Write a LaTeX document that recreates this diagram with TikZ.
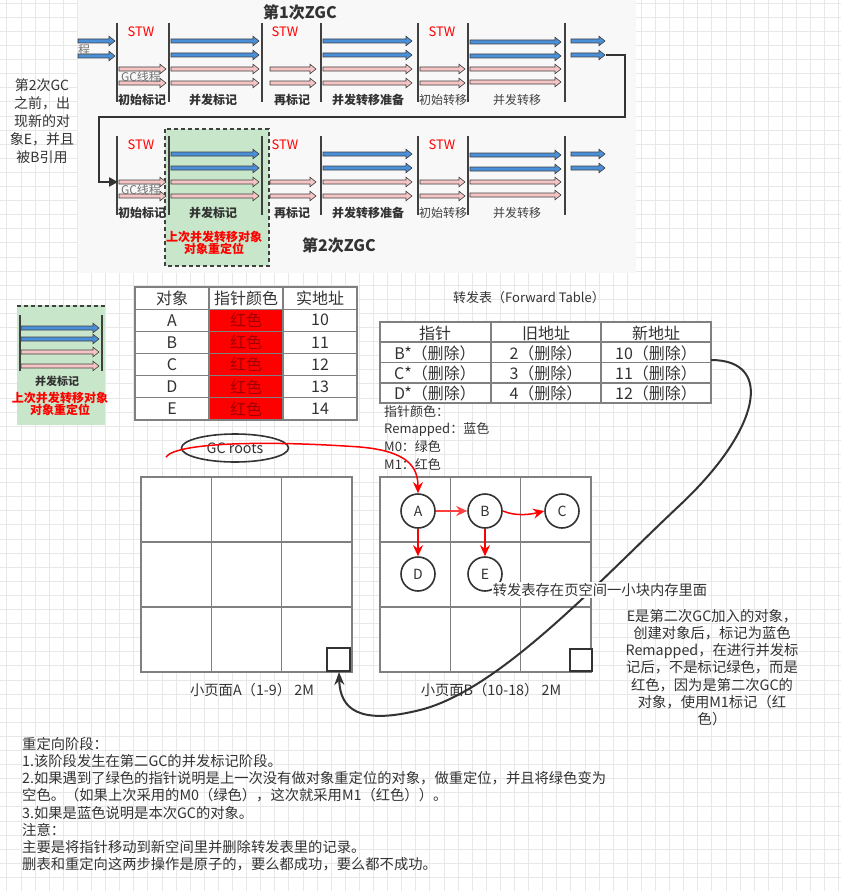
\documentclass[tikz,border=0pt]{standalone}
\usepackage{fontspec}
\setmainfont{Noto Sans CJK SC}
\usetikzlibrary{arrows.meta,shapes.geometric}
\definecolor{txt}{HTML}{333333}
\definecolor{gridc}{HTML}{E8E8E8}
\definecolor{topbg}{HTML}{F8F8F8}
\definecolor{blueA}{HTML}{4A90D9}
\definecolor{pinkA}{HTML}{F5C4C4}
\definecolor{edgeA}{HTML}{404040}
\definecolor{greenbox}{HTML}{C8E6C9}
\definecolor{cellline}{HTML}{808080}
\definecolor{darkred}{HTML}{A00000}
\definecolor{lightred}{HTML}{FF4040}
\newcommand{\barrow}[4]{\filldraw[fill=#4,draw=edgeA,line width=0.6pt,line join=miter] (#1,#3-2) -- (#2-6,#3-2) -- (#2-6,#3-4.8) -- (#2,#3) -- (#2-6,#3+4.8) -- (#2-6,#3+2) -- (#1,#3+2) -- cycle;}
\tikzset{
  f12/.style={font=\fontsize{12}{14}\selectfont},
  f13/.style={font=\fontsize{13}{17.7}\selectfont},
  f14/.style={font=\fontsize{14.3}{17.2}\selectfont},
  f16/.style={font=\fontsize{16}{18}\selectfont},
  lblb/.style={font=\bfseries\fontsize{12}{14}\selectfont},
  lbln/.style={font=\fontsize{12}{14}\selectfont, text=edgeA},
  stw/.style={font=\fontsize{13}{14}\selectfont, text=red},
  gct/.style={font=\fontsize{12}{14}\selectfont, text=gray!90!black},
  redb/.style={font=\bfseries\fontsize{12}{14}\selectfont, text=red},
  vline/.style={draw=edgeA, line width=1.2pt},
  cellb/.style={draw=cellline, line width=1.2pt},
  obj/.style={circle, draw=txt, line width=1.6pt, minimum size=34pt, fill=white, font=\fontsize{14}{14}\selectfont},
  redarr/.style={draw=red, line width=1.5pt, -{Stealth[length=11pt,width=10pt]}},
  conn/.style={draw=txt, line width=2pt, -{Stealth[length=13pt,width=10pt]}},
}
\begin{document}
\begin{tikzpicture}[x=1pt,y=-1pt, every node/.style={text=txt, inner sep=0pt}]
\useasboundingbox (0,0) rectangle (841,891);
\fill[white] (0,0) rectangle (841,891);
% grid
\foreach \i in {0,...,59} \draw[gridc,line width=0.6pt] ({6.7+14.1*\i},0) -- ({6.7+14.1*\i},891);
\foreach \j in {0,...,63} \draw[gridc,line width=0.6pt] (0,{3+14.1*\j}) -- (841,{3+14.1*\j});
% top image
\fill[topbg] (78,0) rectangle (636,273);
\node[font=\bfseries\fontsize{16}{18}\selectfont] (t1) at (300,12) {第1次ZGC};
\node[font=\bfseries\fontsize{16}{18}\selectfont] (t2) at (339,245) {第2次ZGC};
\filldraw[fill=greenbox, draw=edgeA, line width=1.1pt, dash pattern=on 4pt off 3pt] (165,129) rectangle (269,266);
\node[redb] (rt1) at (214,237) {上次并发转移对象};
\node[redb] (rt2) at (214,249) {对象重定位};
% row 1 pre arrows
\barrow{78}{115}{41}{blueA}
\barrow{78}{115}{56}{blueA}
\node[gct] (cheng) at (84,50) {程};
\foreach \o/\s in {0/a,113/b} {
  \foreach \x in {117,169,262,321,418,468,565} \draw[vline] (\x,23+\o) -- (\x,102+\o);
  \barrow{119}{166}{69+\o}{pinkA}
  \barrow{119}{166}{83+\o}{pinkA}
  \barrow{171}{259}{41+\o}{blueA}
  \barrow{171}{259}{55+\o}{blueA}
  \barrow{171}{259}{69+\o}{pinkA}
  \barrow{171}{259}{83+\o}{pinkA}
  \barrow{270}{316}{69+\o}{pinkA}
  \barrow{270}{316}{83+\o}{pinkA}
  \barrow{323}{412}{41+\o}{blueA}
  \barrow{323}{412}{55+\o}{blueA}
  \barrow{323}{412}{69+\o}{pinkA}
  \barrow{323}{412}{83+\o}{pinkA}
  \barrow{420}{465}{69+\o}{pinkA}
  \barrow{420}{465}{83+\o}{pinkA}
  \barrow{470}{561}{42+\o}{blueA}
  \barrow{470}{561}{56+\o}{blueA}
  \barrow{470}{561}{69+\o}{pinkA}
  \barrow{470}{561}{82+\o}{pinkA}
  \barrow{571}{605}{41+\o}{blueA}
  \barrow{571}{605}{55+\o}{blueA}
  \node[stw] (s1\s) at (141,32+\o) {STW};
  \node[stw] (s2\s) at (285,32+\o) {STW};
  \node[stw] (s3\s) at (442,32+\o) {STW};
  \node[gct] (gc\s) at (141,77+\o) {GC线程};
  \node[lblb] (l1\s) at (142,100+\o) {初始标记};
  \node[lblb] (l2\s) at (213,100+\o) {并发标记};
  \node[lblb] (l3\s) at (292,100+\o) {再标记};
  \node[lblb] (l4\s) at (368,100+\o) {并发转移准备};
  \node[lbln] (l5\s) at (443,100+\o) {初始转移};
  \node[lbln] (l6\s) at (517,100+\o) {并发转移};
}
\coordinate (k0) at (606,55);
\coordinate (k1) at (625,117);
\coordinate (k2) at (99,182);
\coordinate (k3) at (118,182);
\draw[draw=txt, line width=2.4pt, -{Triangle[length=9pt,width=9pt]}] (k0) -| (k1) -| (k2) -- (k3);
% left note
\node[align=center, font=\fontsize{14}{18}\selectfont] (note) at (42,121) {第2次GC\\之前，出\\现新的对\\象E，并且\\被B引用};
% small green copy
\fill[greenbox] (17,305) rectangle (105,425);
\draw[edgeA, line width=1.1pt, dash pattern=on 4pt off 3pt] (17,306) -- (105,306);
\draw[vline] (20,315) -- (20,371);
\draw[vline] (102,315) -- (102,371);
\barrow{21}{99}{328}{blueA}
\barrow{21}{99}{339}{blueA}
\barrow{21}{99}{352}{pinkA}
\barrow{21}{99}{366}{pinkA}
\node[font=\bfseries\fontsize{11}{13}\selectfont] (sgl) at (57,381) {并发标记};
\node[redb] (sgr1) at (60,398) {上次并发转移对象};
\node[redb] (sgr2) at (60,410) {对象重定位};
% table 1
\fill[white] (135,287) rectangle (357,420);
\foreach \k in {1,...,5} \fill[red] (209,{287+22.17*\k}) rectangle (283,{287+22.17*(\k+1)});
\draw[cellb] (135,287) rectangle (357,420);
\foreach \k in {1,...,5} \draw[cellb] (135,{287+22.17*\k}) -- (357,{287+22.17*\k});
\draw[cellb] (209,287) -- (209,420);
\draw[cellb] (283,287) -- (283,420);
\node[f16] (h1) at (172,298) {对象};
\node[f16] (h2) at (246,298) {指针颜色};
\node[f16] (h3) at (320,298) {实地址};
\foreach \n/\v [count=\k] in {A/10,B/11,C/12,D/13,E/14} {
  \node[f16] (oa\k) at (172,{298.1+22.17*\k}) {\n};
  \node[f16, text=darkred] (ob\k) at (246,{298.1+22.17*\k}) {红色};
  \node[f16] (oc\k) at (320,{298.1+22.17*\k}) {\v};
}
% forward table
\node[f13] (ftt) at (529,298) {转发表（Forward Table）};
\fill[white] (380,322) rectangle (711,403);
\draw[cellb] (380,322) rectangle (711,403);
\foreach \yy in {342,362.5,383} \draw[cellb] (380,\yy) -- (711,\yy);
\draw[cellb] (491,322) -- (491,403);
\draw[cellb] (601,322) -- (601,403);
\node[f16] (fh1) at (435,333) {指针};
\node[f16] (fh2) at (546,333) {旧地址};
\node[f16] (fh3) at (656,333) {新地址};
\foreach \p/\o/\nn [count=\k] in {B*/2/10,C*/3/11,D*/4/12} {
  \node[f16] (fa\k) at (435,{333+20.3*\k}) {\p（删除）};
  \node[f16] (fb\k) at (546,{333+20.3*\k}) {\o（删除）};
  \node[f16] (fc\k) at (656,{333+20.3*\k}) {\nn（删除）};
}
\node[f13, anchor=north west, align=left] (pcol) at (384,405) {指针颜色：\\Remapped：蓝色\\M0：绿色\\M1：红色};
% grids
\foreach \gx/\gn in {141/A,380/B} {
  \fill[white] (\gx,477) rectangle (\gx+211,672);
  \draw[cellb, line width=1.5pt] (\gx,477) rectangle (\gx+211,672);
  \draw[cellb, line width=1.5pt] (\gx+70.3,477) -- (\gx+70.3,672);
  \draw[cellb, line width=1.5pt] (\gx+140.7,477) -- (\gx+140.7,672);
  \draw[cellb, line width=1.5pt] (\gx,542) -- (\gx+211,542);
  \draw[cellb, line width=1.5pt] (\gx,607) -- (\gx+211,607);
}
\filldraw[fill=white, draw=txt, line width=2.2pt] (327,648) rectangle (350,671);
\filldraw[fill=white, draw=txt, line width=2.2pt] (570,649) rectangle (592,671);
\node[f14] (pa) at (252,690) {小页面A（1-9） 2M};
\node[f14] (pb) at (491,690) {小页面B（10-18） 2M};
% GC roots
\node[ellipse, draw=txt, line width=1.6pt, minimum width=107pt, minimum height=28pt, f14] (roots) at (235,448) {GC roots};
% objects
\node[obj] (A) at (418,511) {A};
\node[obj] (B) at (485,511) {B};
\node[obj] (C) at (562,511) {C};
\node[obj] (D) at (418,574) {D};
\node[obj] (E) at (485,574) {E};
\coordinate (rs) at (166,457);
\draw[redarr] (rs) .. controls (176,443) and (260,440) .. (360,447) .. controls (405,451) and (418,465) .. (A.north);
\draw[redarr, draw=lightred] (A) -- (B);
\draw[redarr] (B.east) .. controls (515,516) and (528,515) .. (C.west);
\draw[redarr] (A) -- (D);
\draw[redarr] (B) -- (E);
% forward-table curve
\coordinate (fs) at (711,360);
\coordinate (sqA) at (339,672);
\draw[conn] (fs) .. controls (775,360) and (760,430) .. (680,505) .. controls (600,580) and (500,690) .. (420,710) .. controls (360,725) and (340,710) .. (sqA);
\node[f14, fill=white, inner sep=1pt] (ftl) at (600,590) {转发表存在页空间一小块内存里面};
% E note
\node[f14, align=center, anchor=north] (enote) at (712,609) {E是第二次GC加入的对象，\\创建对象后，标记为蓝色\\Remapped，在进行并发标\\记后，不是标记绿色，而是\\红色，因为是第二次GC的\\对象，使用M1标记（红\\色）};
% bottom text
\node[f14, align=left, anchor=north west] (bt) at (22,737) {重定向阶段：\\1.该阶段发生在第二GC的并发标记阶段。\\2.如果遇到了绿色的指针说明是上一次没有做对象重定位的对象，做重定位，并且将绿色变为\\空色。（如果上次采用的M0（绿色），这次就采用M1（红色））。\\3.如果是蓝色说明是本次GC的对象。\\注意：\\主要是将指针移动到新空间里并删除转发表里的记录。\\删表和重定向这两步操作是原子的，要么都成功，要么都不成功。};
\end{tikzpicture}
\end{document}
